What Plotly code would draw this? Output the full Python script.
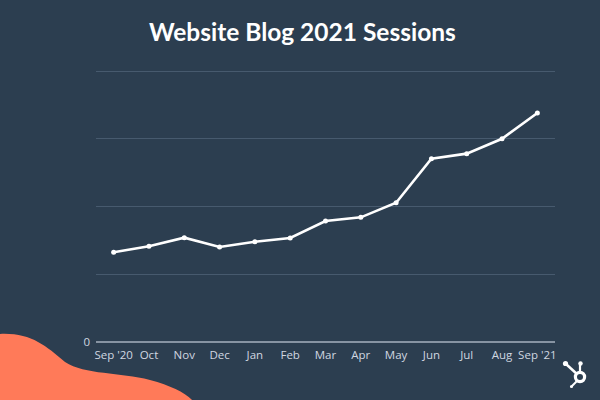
import plotly.graph_objects as go

months = ["Sep '20", "Oct", "Nov", "Dec", "Jan", "Feb", "Mar", "Apr", "May", "Jun", "Jul", "Aug", "Sep '21"]
sessions = [1325, 1412, 1540, 1402, 1480, 1535, 1786, 1840, 2056, 2706, 2780, 3000, 3380]
y_tickvals = [0, 1000, 2000, 3000, 4000]
y_ticktext = ["0", "", "", "", ""]

BG = "#2c3e50"
W, H = 600, 400
L, R, T, B = 96, 45, 66, 58
PW, PH = W - L - R, H - T - B
Y_TOP = 4000 * PH / 271.0


def px(x):
    return (x - L) / PW


def py(y):
    return (H - B - y) / PH


def path(cmds):
    out = []
    for c in cmds:
        if isinstance(c, str):
            out.append(c)
        else:
            out.append(f"{px(c[0]):.4f},{py(c[1]):.4f}")
    return " ".join(out)


fig = go.Figure()
fig.add_trace(go.Scatter(
    x=months, y=sessions, mode="lines+markers",
    line=dict(color="white", width=2.6),
    marker=dict(color="white", size=5),
    hoverinfo="skip",
))

shapes = []
# orange blob bottom-left
blob = path(["M", (-2, 334), "C", (30, 332), (45, 345), (65, 362),
             "C", (85, 375), (120, 372), (150, 380),
             "C", (172, 386), (186, 393), (194, 402),
             "L", (-2, 402), "Z"])
shapes.append(dict(type="path", xref="paper", yref="paper", path=blob,
                   fillcolor="#ff7a59", line=dict(width=0), layer="above"))


def circ(cx, cy, r, fill, lw=0, lc="white"):
    return dict(type="circle", xref="paper", yref="paper",
                x0=px(cx - r), x1=px(cx + r), y0=py(cy + r), y1=py(cy - r),
                fillcolor=fill, line=dict(color=lc, width=lw), layer="above")


def seg(x0, y0, x1, y1, w):
    return dict(type="line", xref="paper", yref="paper",
                x0=px(x0), y0=py(y0), x1=px(x1), y1=py(y1),
                line=dict(color="white", width=w), layer="above")


shapes += [
    seg(578, 375, 566, 364, 2.5),
    seg(580, 372, 580, 364, 2.2),
    seg(577, 381, 572, 386, 2),
    circ(565.5, 363.5, 2.6, "white"),
    circ(580.5, 363.5, 2.2, "white"),
    circ(571.5, 386.5, 1.6, "white"),
    circ(580, 377, 4.6, BG, lw=3.2),
]

fig.update_layout(
    width=W, height=H,
    paper_bgcolor=BG, plot_bgcolor=BG,
    margin=dict(l=L, r=R, t=T, b=B),
    showlegend=False,
    title=dict(text="<b>Website Blog 2021 Sessions</b>", x=0.504, xref="container",
               xanchor="center",
               y=1 - 32 / H, yanchor="middle",
               font=dict(family="Lato", size=24.5, color="white", weight=900)),
    font=dict(family="Open Sans", color="#d0d7e0", size=11.5),
    xaxis=dict(type="category", range=[-0.5, 12.5], showgrid=False,
               showline=False, zeroline=False, ticks="",
               ticklabelstandoff=4,
               tickfont=dict(size=11.5, color="#d0d7e0")),
    yaxis=dict(range=[0, Y_TOP], tickvals=y_tickvals, ticktext=y_ticktext,
               showgrid=True, gridcolor="#475a6e", gridwidth=1,
               zeroline=True, zerolinecolor="#8794a3", zerolinewidth=1.5,
               showline=False, ticks="", ticklabelstandoff=5,
               tickfont=dict(size=11.5, color="#d0d7e0")),
    shapes=shapes,
)

fig.write_html("out.html", config={"displayModeBar": False},
               post_script="document.body.style.margin='0';document.body.style.overflow='hidden';")
